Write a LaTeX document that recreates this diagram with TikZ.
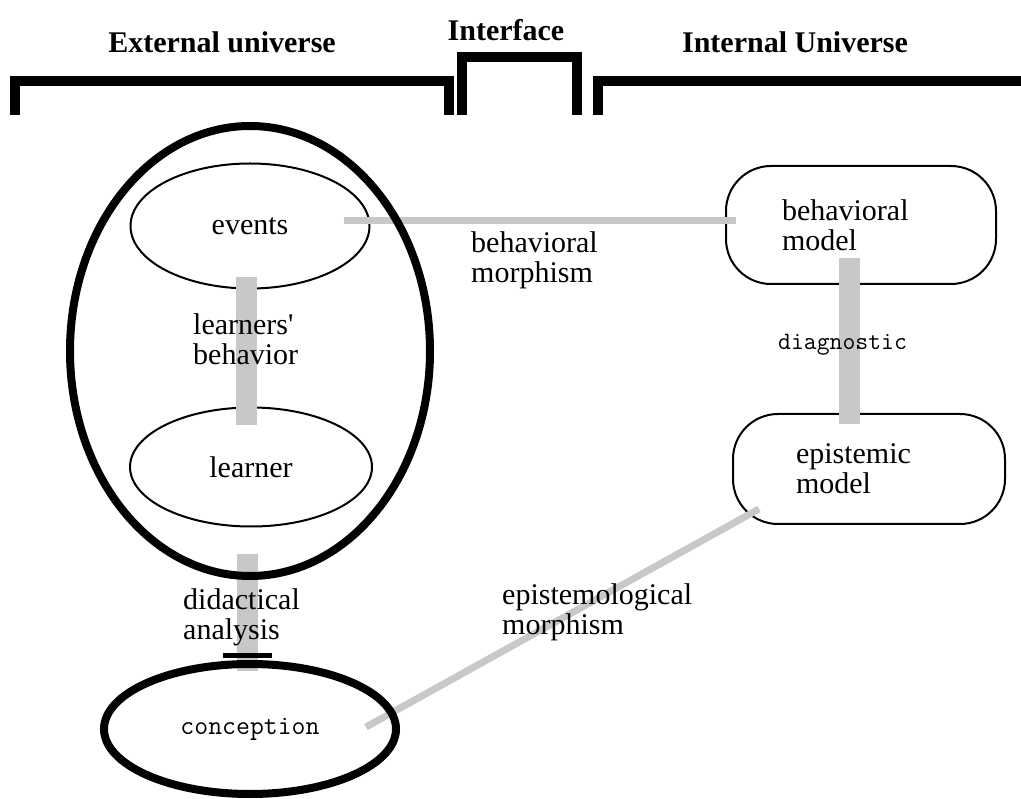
\documentclass[tikz,border=0pt]{standalone}
\usepackage{fontspec}
\setmainfont{Liberation Serif}[Ligatures=TeXOff]
\usetikzlibrary{shapes.geometric}
\definecolor{bargray}{RGB}{200,200,200}
\pgfdeclarelayer{front}
\pgfsetlayers{main,front}

\begin{document}
\begin{tikzpicture}[x=1pt, y=-1pt,
    every node/.style={inner sep=0pt, font=\fontsize{30}{30}\selectfont},
    head/.style={anchor=base, font=\fontsize{30}{30}\selectfont\bfseries},
    bracket/.style={line width=10pt, line join=miter},
    thinell/.style={ellipse, draw, line width=2pt},
    thickell/.style={ellipse, draw, line width=8pt},
    modelbox/.style={draw, line width=2pt, rounded corners=45pt, align=left},
    graybar/.style={draw=bargray, line width=21pt},
    thinbar/.style={draw=bargray, line width=7pt},
    lbl/.style={anchor=west, align=left},
    monolbl/.style={font=\fontsize{25}{25}\selectfont\ttfamily}]
    \useasboundingbox (0,0) rectangle (1021,799);

    % the three universes
    \draw [bracket] (15,115) -- (15,81) -- (449,81) -- (449,115);
    \draw [bracket] (462,115) -- (462,57) -- (577,57) -- (577,115);
    \draw [bracket] (598,115) -- (598,81) -- (1021,81);

    \node [head] (extu) at (222,53) {External universe};
    \node [head] (intf) at (506,41) {Interface};
    \node [head] (intu) at (795,53) {Internal Universe};

    \begin{pgfonlayer}{front}
      \node [thickell,minimum width=360pt,minimum height=450pt] (observed)
      at (250,351) {};
      \node [thickell,minimum width=292pt,minimum height=130pt,
      font=\fontsize{27}{27}\selectfont\ttfamily] (concep) at (250,729)
      {conception};
      \draw [line width=5pt] ([xshift=-27pt,yshift=5pt]concep.north)
      -- ([xshift=22pt,yshift=5pt]concep.north);
    \end{pgfonlayer}

    \node [thinell,minimum width=239pt,minimum height=125pt] (events)
    at (250,226) {events};
    \node [thinell,minimum width=242pt,minimum height=119pt] (learner)
    at (251,467) {learner};

    \node [modelbox,text width=158pt,inner xsep=56pt,minimum height=118pt]
    (bhvmodel) at (861,225) {behavioral\\model};
    \node [modelbox,text width=146pt,inner xsep=63pt,minimum height=110pt]
    (epimodel) at (869,469) {epistemic\\model};

    % morphisms
    \draw [graybar] ([xshift=-4pt,yshift=12pt]events.south)
    -- ([xshift=-5pt,yshift=-19pt]learner.north);
    \draw [graybar] ([xshift=-3pt,yshift=26pt]observed.south)
    -- ([xshift=-3pt,yshift=-11pt]concep.north);
    \draw [graybar] ([xshift=-12pt,yshift=27pt]bhvmodel.south)
    -- ([xshift=-20pt,yshift=-11pt]epimodel.north);
    \draw [thinbar] ([xshift=-27pt,yshift=5pt]events.east)
    -- ([xshift=11pt,yshift=4pt]bhvmodel.west);
    \draw [thinbar] ([xshift=-34pt,yshift=2pt]concep.east)
    -- ([xshift=27pt,yshift=16pt]epimodel.south west);

    \node [lbl] (lbhv) at (193,339) {learners'\\behavior};
    \node [lbl] (ldid) at (183,617) {didactical\\analysis};
    \node [lbl] (lbhvm) at (471,260) {behavioral\\morphism};
    \node [lbl] (lepim) at (502,612) {epistemological\\morphism};
    \node [lbl,monolbl] (ldiag) at (778,345) {diagnostic};
  \end{tikzpicture}
\end{document}
